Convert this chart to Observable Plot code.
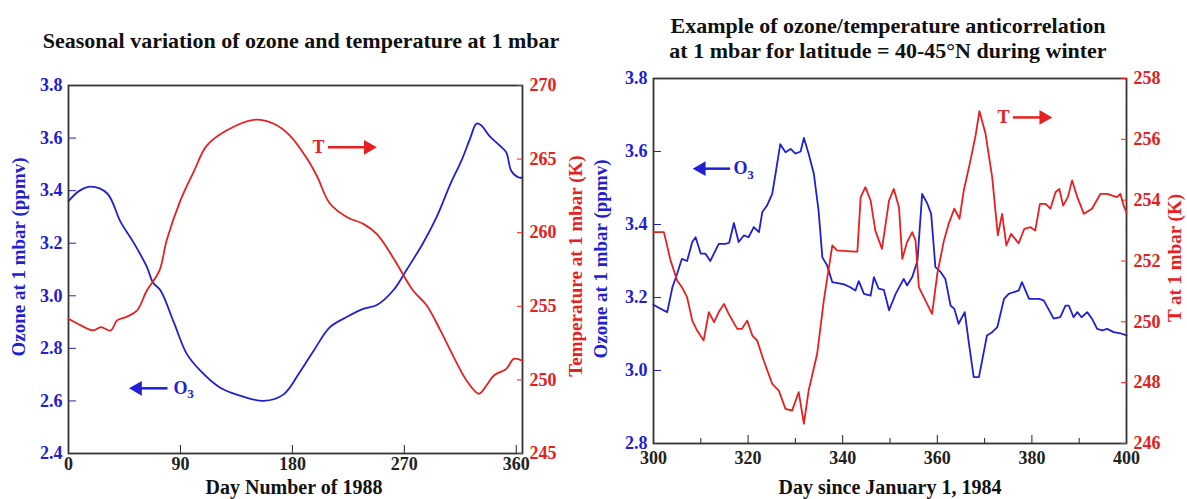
<!DOCTYPE html>
<html><head><meta charset="utf-8">
<script src="https://cdn.jsdelivr.net/npm/d3@7"></script>
<script src="https://cdn.jsdelivr.net/npm/@observablehq/plot@0.6"></script>
<style>
body{margin:0;background:#fff;}
#wrap{position:relative;width:1187px;height:499px;overflow:hidden;font-family:"Liberation Serif","Times New Roman",serif;font-weight:bold;background:#fff;}
#wrap svg{position:absolute;}
.title{position:absolute;font-size:22px;color:#111;text-align:center;white-space:nowrap;transform:translateX(-50%);line-height:25px;}
.ylab{position:absolute;white-space:nowrap;font-size:19px;transform:translate(-50%,-50%) rotate(-90deg);}
.xlab{position:absolute;white-space:nowrap;font-size:20px;line-height:22px;transform:translate(-50%,-50%);color:#111;}
</style></head>
<body>
<div id="wrap"></div>
<script>
const BLUE = "#2020d2", RED = "#e62020", FRAME = "#333";

// ---- Left panel: seasonal variation (Day Number of 1988)
const seasonOzoneDays = [0, 9, 18, 31, 42, 52, 63, 68, 74, 85, 95, 106, 122, 138, 157, 173, 186, 197, 210, 224, 237, 248, 261, 272, 285, 296, 307, 316, 323, 328, 332, 338, 347, 352, 356, 362, 365];
const seasonOzone = [3.36, 3.40, 3.415, 3.39, 3.28, 3.205, 3.11, 3.05, 3.02, 2.895, 2.78, 2.715, 2.65, 2.62, 2.60, 2.625, 2.71, 2.79, 2.88, 2.92, 2.95, 2.965, 3.02, 3.10, 3.20, 3.30, 3.425, 3.515, 3.60, 3.655, 3.648, 3.61, 3.57, 3.545, 3.475, 3.45, 3.45];
const seasonTempDays = [0, 10, 20, 26, 34, 39, 47, 55, 63, 73, 79, 90, 101, 111, 127, 149, 165, 178, 192, 200, 210, 224, 237, 248, 261, 277, 288, 299, 310, 320, 330, 336, 342, 352, 358, 365];
const seasonTemp = [254.15, 253.7, 253.36, 253.58, 253.36, 254.04, 254.3, 254.7, 256.07, 257.4, 259.5, 262.2, 264.2, 265.9, 266.94, 267.67, 267.4, 266.6, 265.0, 263.8, 262.0, 261.05, 260.6, 259.9, 258.3, 256.07, 255.06, 253.36, 251.5, 249.96, 249.06, 249.62, 250.3, 250.75, 251.43, 251.3];
const seasonDayTicks = [0, 90, 180, 270, 360];
const seasonOzoneTicks = [2.4, 2.6, 2.8, 3.0, 3.2, 3.4, 3.6, 3.8];
const seasonTempTicks = [245, 250, 255, 260, 265, 270];

// ---- Right panel: winter anticorrelation (Day since January 1, 1984)
const winterOzoneDays = [300, 301.5, 302.9, 304, 305, 306, 307.1, 308.2, 308.9, 310, 311, 312, 313.8, 315.2, 316, 317, 318, 319.1, 320.1, 321.2, 322.3, 323, 324, 325.1, 325.8, 326.8, 327.9, 329, 330, 331.1, 331.8, 332.8, 333.9, 334.9, 335.7, 336.7, 337.8, 340.3, 341.6, 342.7, 343.4, 344.5, 345.9, 346.6, 347.6, 348.7, 349.8, 351.2, 352.9, 353.6, 354.7, 355.8, 356.8, 357.9, 358.7, 359.6, 360.7, 361.7, 362.8, 363.6, 364.5, 365.8, 366.7, 367.7, 368.8, 370.5, 371.6, 372.7, 374.1, 375.1, 376.2, 377.2, 377.9, 379.4, 381.5, 382.5, 384.6, 386, 387.1, 387.8, 388.8, 389.6, 390.5, 391.7, 392.7, 393.8, 394.9, 395.9, 397.3, 398.7, 400];
const winterOzone = [3.18, 3.169, 3.16, 3.228, 3.265, 3.306, 3.30, 3.352, 3.365, 3.32, 3.32, 3.30, 3.347, 3.347, 3.35, 3.404, 3.352, 3.37, 3.365, 3.393, 3.379, 3.434, 3.452, 3.484, 3.539, 3.62, 3.598, 3.607, 3.594, 3.60, 3.637, 3.594, 3.539, 3.438, 3.31, 3.288, 3.242, 3.236, 3.228, 3.219, 3.245, 3.21, 3.205, 3.256, 3.224, 3.221, 3.165, 3.21, 3.251, 3.233, 3.256, 3.30, 3.484, 3.457, 3.429, 3.283, 3.27, 3.251, 3.178, 3.169, 3.128, 3.16, 3.073, 2.982, 2.982, 3.096, 3.105, 3.119, 3.196, 3.21, 3.215, 3.219, 3.242, 3.196, 3.196, 3.192, 3.142, 3.146, 3.178, 3.178, 3.146, 3.16, 3.146, 3.16, 3.142, 3.114, 3.11, 3.114, 3.105, 3.102, 3.096];
const winterTempDays = [300, 302.2, 303.6, 305, 306, 307.1, 308.2, 309.2, 310.6, 311.7, 312.8, 313.8, 314.9, 315.9, 317.7, 318.7, 319.8, 320.9, 321.9, 323.3, 325.1, 326.5, 327.9, 329.3, 330.7, 331.8, 332.8, 334.6, 336, 337.8, 338.8, 342.4, 343.1, 343.8, 344.8, 345.9, 346.9, 348.3, 349.8, 350.8, 351.9, 352.6, 353.6, 354.7, 355.4, 356.1, 357.5, 358.9, 360, 361.4, 362.4, 363.6, 364.7, 365.6, 367, 368.1, 368.9, 370.2, 371.6, 372.8, 373.7, 374.6, 375.6, 377.2, 378.4, 379.7, 380.7, 381.7, 382.9, 383.9, 385, 385.8, 386.6, 387.6, 388.5, 389.6, 391, 392.7, 394.5, 395.9, 397, 398, 398.7, 399.4, 400];
const winterTemp = [252.95, 252.95, 252.02, 251.36, 251.14, 250.81, 250.04, 249.72, 249.39, 250.32, 249.99, 250.32, 250.59, 250.26, 249.77, 249.77, 250.04, 249.55, 249.39, 248.73, 247.96, 247.74, 247.14, 247.08, 247.69, 246.65, 247.74, 248.95, 250.7, 252.51, 252.35, 252.31, 252.31, 254.1, 254.43, 253.99, 253.0, 252.4, 253.99, 254.37, 253.77, 252.07, 252.62, 252.95, 252.67, 251.14, 250.7, 250.26, 251.58, 252.67, 253.22, 253.72, 253.39, 254.32, 255.3, 256.13, 256.93, 256.18, 254.76, 252.84, 253.55, 252.51, 252.89, 252.58, 253.06, 253.11, 253.0, 253.88, 253.88, 253.72, 254.26, 254.37, 253.82, 254.1, 254.65, 254.1, 253.55, 253.72, 254.21, 254.21, 254.15, 254.1, 254.21, 253.82, 253.6];
const winterDayTicks = [300, 320, 340, 360, 380, 400];
const winterDayMinorTicks = [310, 330, 350, 370, 390];
const winterOzoneTicks = [2.8, 3.0, 3.2, 3.4, 3.6, 3.8];
const winterTempTicks = [246, 248, 250, 252, 254, 256, 258];

const zip = (xs, ys) => xs.map((x, i) => ({day: x, v: ys[i]}));
const TICKFONT = 18;
const baseStyle = {fontFamily: '"Liberation Serif", "Times New Roman", serif', fontWeight: "bold", fontSize: TICKFONT + "px", background: "transparent", overflow: "visible"};

function arrowMarks(a, color) {
  return [
    Plot.ruleY([a.y], {x1: a.x1, x2: a.x2, stroke: color, strokeWidth: 2.5}),
    Plot.dot([a.y], {x: a.head, y: d => d, symbol: "triangle", r: 5.5, rotate: a.dir, fill: color, stroke: "none"}),
    Plot.text([a.y], {x: a.lx, y: d => d, text: () => a.label, fill: color, fontSize: 18, fontWeight: "bold", textAnchor: a.anchor, lineAnchor: "middle"}),
    ...(a.sub ? [Plot.text([a.y], {x: a.sx, y: d => d, text: () => a.sub, fill: color, fontSize: 13, fontWeight: "bold", textAnchor: "start", lineAnchor: "middle", dy: 6})] : [])
  ];
}

function panel({left, top, width, height, mL, mR, mT, mB, xDomain, xTicks, xMinor, curve, oz, ozDomain, ozTicks, t, tDomain, tTicks, ozArrow, tArrow, xPad}) {
  const common = {width, height, marginLeft: mL, marginRight: mR, marginTop: mT, marginBottom: mB, style: baseStyle};
  const p1 = Plot.plot({
    ...common,
    x: {domain: xDomain},
    y: {domain: ozDomain},
    marks: [
      Plot.axisX({ticks: xTicks, tickSize: -8, tickPadding: xPad, tickFormat: d => String(d), color: "#222", fontSize: TICKFONT, fontWeight: "bold", label: null}),
      ...(xMinor ? [Plot.axisX({ticks: xMinor, tickSize: -5, tickFormat: () => "", color: "#222", label: null})] : []),
      Plot.axisY({ticks: ozTicks, tickSize: -8, tickPadding: 14, tickFormat: d3.format(".1f"), color: BLUE, fontSize: TICKFONT, fontWeight: "bold", label: null}),
      Plot.line(oz, {x: "day", y: "v", stroke: BLUE, strokeWidth: 1.8, curve}),
      ...arrowMarks(ozArrow, BLUE),
      Plot.frame({stroke: FRAME, strokeWidth: 1.8})
    ]
  });
  const p2 = Plot.plot({
    ...common,
    x: {domain: xDomain, axis: null},
    y: {domain: tDomain},
    marks: [
      Plot.axisY({anchor: "right", ticks: tTicks, tickSize: -6, tickPadding: 13, tickFormat: d => String(d), color: RED, fontSize: TICKFONT, fontWeight: "bold", label: null}),
      Plot.line(t, {x: "day", y: "v", stroke: RED, strokeWidth: 1.8, curve}),
      ...arrowMarks(tArrow, RED)
    ]
  });
  for (const p of [p1, p2]) {
    p.style.left = left + "px";
    p.style.top = top + "px";
    document.getElementById("wrap").appendChild(p);
  }
}

panel({
  left: 0, top: 60, width: 590, height: 439, mL: 68, mR: 68, mT: 25, mB: 46, xPad: 12,
  xDomain: [0, 365], xTicks: seasonDayTicks, curve: "catmull-rom",
  oz: zip(seasonOzoneDays, seasonOzone), ozDomain: [2.4, 3.8], ozTicks: seasonOzoneTicks,
  t: zip(seasonTempDays, seasonTemp), tDomain: [245, 270], tTicks: seasonTempTicks,
  ozArrow: {x1: 55, x2: 80, y: 2.648, head: 55.5, dir: -90, label: "O", lx: 84.5, anchor: "start", sub: "3", sx: 95.5},
  tArrow: {x1: 209, x2: 240, y: 265.8, head: 241, dir: 90, label: "T", lx: 201, anchor: "middle"}
});

panel({
  left: 595, top: 60, width: 592, height: 439, mL: 58, mR: 61, mT: 18, mB: 56, xPad: 16,
  xDomain: [300, 400], xTicks: winterDayTicks, xMinor: winterDayMinorTicks, curve: "linear",
  oz: zip(winterOzoneDays, winterOzone), ozDomain: [2.8, 3.8], ozTicks: winterOzoneTicks,
  t: zip(winterTempDays, winterTemp), tDomain: [246, 258], tTicks: winterTempTicks,
  ozArrow: {x1: 310, x2: 316.3, y: 3.553, head: 310.1, dir: -90, label: "O", lx: 316.9, anchor: "start", sub: "3", sx: 319.8},
  tArrow: {x1: 376.1, x2: 382.5, y: 256.72, head: 382.5, dir: 90, label: "T", lx: 374, anchor: "middle"}
});

// ---- Titles and axis labels
const wrap = document.getElementById("wrap");
function addDiv(cls, html, styles) {
  const d = document.createElement("div");
  d.className = cls; d.innerHTML = html;
  Object.assign(d.style, styles);
  wrap.appendChild(d);
}
addDiv("title", "Seasonal variation of ozone and temperature at 1 mbar", {left: "301px", top: "28px"});
addDiv("title", "Example of ozone/temperature anticorrelation<br>at 1 mbar for latitude = 40-45°N during winter", {left: "888px", top: "13px"});
addDiv("ylab", "Ozone at 1 mbar (ppmv)", {left: "19px", top: "257px", color: BLUE});
addDiv("ylab", "Temperature at 1 mbar (K)", {left: "576px", top: "266px", color: RED});
addDiv("ylab", "Ozone at 1 mbar (ppmv)", {left: "601px", top: "259px", color: BLUE});
addDiv("ylab", "T at 1 mbar (K)", {left: "1175px", top: "258px", color: RED});
addDiv("xlab", "Day Number of 1988", {left: "294px", top: "487px"});
addDiv("xlab", "Day since January 1, 1984", {left: "890px", top: "487px"});
</script>
</body></html>
